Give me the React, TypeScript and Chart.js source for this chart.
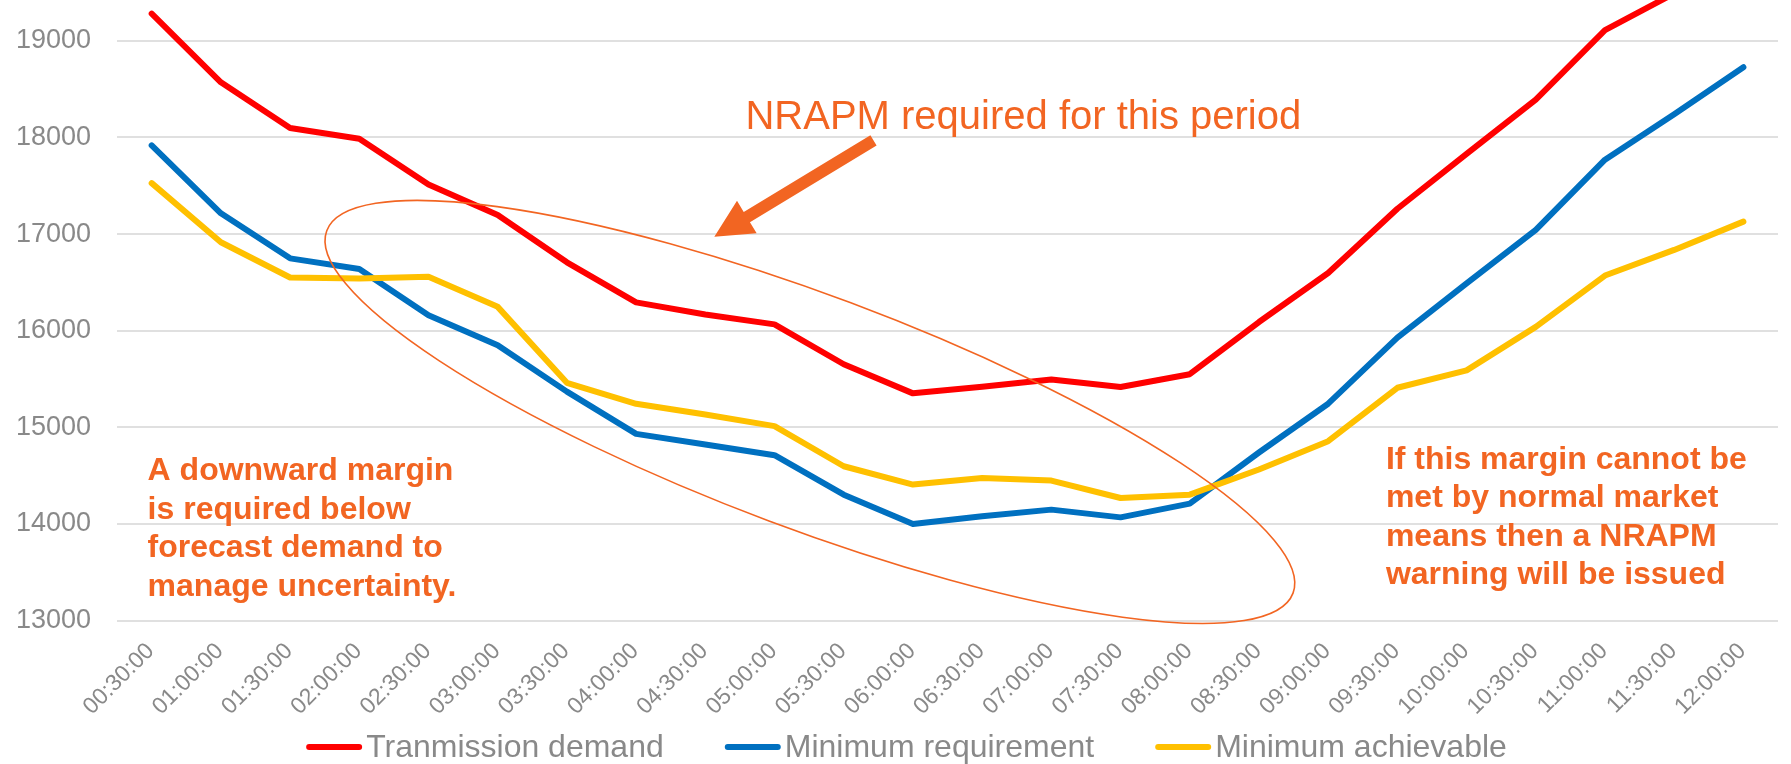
import React, { useEffect, useRef } from 'react';
import { Chart, registerables } from 'chart.js';

Chart.register(...registerables);

const timeLabels = [
  '00:30:00', '01:00:00', '01:30:00', '02:00:00', '02:30:00', '03:00:00',
  '03:30:00', '04:00:00', '04:30:00', '05:00:00', '05:30:00', '06:00:00',
  '06:30:00', '07:00:00', '07:30:00', '08:00:00', '08:30:00', '09:00:00',
  '09:30:00', '10:00:00', '10:30:00', '11:00:00', '11:30:00', '12:00:00',
];

const transmissionDemand = [
  19280, 18570, 18097, 17987, 17512, 17197, 16708, 16293, 16168, 16066, 15653, 15352,
  15420, 15495, 15418, 15550, 16090, 16597, 17262, 17829, 18392, 19110, 19490, 19850,
];

const minimumRequirement = [
  17918, 17215, 16749, 16638, 16161, 15850, 15370, 14933, 14823, 14712, 14304, 14000,
  14080, 14149, 14069, 14211, 14740, 15245, 15929, 16489, 17043, 17770, 18239, 18727,
];

const minimumAchievable = [
  17527, 16915, 16551, 16541, 16559, 16247, 15461, 15244, 15134, 15013, 14598, 14408,
  14477, 14450, 14269, 14304, 14564, 14857, 15410, 15590, 16040, 16571, 16836, 17129,
];

const yTickValues = [13000, 14000, 15000, 16000, 17000, 18000, 19000];
const seriesNames = ['Tranmission demand', 'Minimum requirement', 'Minimum achievable'];
const seriesColors = ['#FF0000', '#0070C0', '#FFC000'];

const leftNote = ['A downward margin', 'is required below', 'forecast demand to', 'manage uncertainty.'];
const rightNote = ['If this margin cannot be', 'met by normal market', 'means then a NRAPM', 'warning will be issued'];
const arrowNote = 'NRAPM required for this period';

const ORANGE = '#F26522';
const GRAY = '#898989';
const FONT = "'Liberation Sans', Arial, Helvetica, sans-serif";
const TOP_SHIFT = 42;
const CANVAS_W = 1791;
const CANVAS_H = 764 + TOP_SHIFT;

const annotationPlugin = {
  id: 'nrapmAnnotations',
  afterDatasetsDraw(chart: any) {
    const { ctx } = chart;
    const x = chart.scales.x;
    const y = chart.scales.y;
    const px = (i: number) => x.getPixelForValue(i);
    const py = (v: number) => y.getPixelForValue(v);
    ctx.save();

    // ellipse
    ctx.strokeStyle = ORANGE;
    ctx.lineWidth = 1.6;
    ctx.beginPath();
    ctx.ellipse(px(9.511), py(15160), 516, 116.5, (20.56 * Math.PI) / 180, 0, Math.PI * 2);
    ctx.stroke();

    // arrow
    const tx = px(10.43), ty = py(17969);
    const hx = px(8.13), hy = py(16973);
    const len = Math.hypot(hx - tx, hy - ty);
    const dx = (hx - tx) / len, dy = (hy - ty) / len;
    const nx = -dy, ny = dx;
    const headLen = 38, headHalf = 19, shaftHalf = 6;
    const bx = hx - dx * headLen, by = hy - dy * headLen;
    ctx.fillStyle = ORANGE;
    ctx.beginPath();
    ctx.moveTo(tx + nx * shaftHalf, ty + ny * shaftHalf);
    ctx.lineTo(bx + nx * shaftHalf, by + ny * shaftHalf);
    ctx.lineTo(bx + nx * headHalf, by + ny * headHalf);
    ctx.lineTo(hx, hy);
    ctx.lineTo(bx - nx * headHalf, by - ny * headHalf);
    ctx.lineTo(bx - nx * shaftHalf, by - ny * shaftHalf);
    ctx.lineTo(tx - nx * shaftHalf, ty - ny * shaftHalf);
    ctx.closePath();
    ctx.fill();

    // texts
    ctx.textAlign = 'left';
    ctx.textBaseline = 'alphabetic';
    ctx.font = `40px ${FONT}`;
    ctx.fillText(arrowNote, px(8.58), py(18084));

    ctx.font = `bold 32px ${FONT}`;
    const lh = 38.4;
    const lx = px(-0.059), ly = py(14452);
    leftNote.forEach((t, i) => ctx.fillText(t, lx, ly + i * lh));
    const rx = px(17.834), ry = py(14572);
    rightNote.forEach((t, i) => ctx.fillText(t, rx, ry + i * lh));

    ctx.restore();
  },
  afterDraw(chart: any) {
    const { ctx } = chart;
    ctx.save();
    ctx.font = `32px ${FONT}`;
    const lineW = 56, textGap = 4, itemGap = 61;
    const widths = chart.data.datasets.map((d: any) => ctx.measureText(d.label).width);
    const total = widths.reduce((a: number, w: number) => a + lineW + textGap + w, 0) + itemGap * (widths.length - 1);
    let sx = chart.width / 2 + 11 - total / 2;
    const cy = chart.height - 17;
    chart.data.datasets.forEach((d: any, i: number) => {
      ctx.strokeStyle = d.borderColor;
      ctx.lineWidth = 6;
      ctx.lineCap = 'round';
      ctx.beginPath();
      ctx.moveTo(sx + 3, cy);
      ctx.lineTo(sx + lineW - 3, cy);
      ctx.stroke();
      ctx.fillStyle = GRAY;
      ctx.textAlign = 'left';
      ctx.textBaseline = 'alphabetic';
      ctx.fillText(d.label, sx + lineW + textGap, cy + 10);
      sx += lineW + textGap + widths[i] + itemGap;
    });
    ctx.restore();
  },
};

export default function App() {
  const canvasRef = useRef<HTMLCanvasElement | null>(null);

  useEffect(() => {
    if (!canvasRef.current) return;
    const series = [transmissionDemand, minimumRequirement, minimumAchievable];
    const chart = new Chart(canvasRef.current, {
      type: 'line',
      data: {
        labels: timeLabels,
        datasets: series.map((values, i) => ({
          label: seriesNames[i],
          data: values,
          borderColor: seriesColors[i],
          backgroundColor: seriesColors[i],
          borderWidth: 6,
          pointRadius: 0,
          pointHoverRadius: 0,
          tension: 0,
          fill: false,
          borderCapStyle: 'round',
          borderJoinStyle: 'round',
          order: 3 - i,
        })),
      },
      options: {
        responsive: false,
        animation: false,
        devicePixelRatio: 1,
        layout: { autoPadding: false, padding: { left: -10, right: 13, top: TOP_SHIFT, bottom: 26.5 } },
        plugins: {
          legend: { display: false },
          tooltip: { enabled: false },
        },
        scales: {
          x: {
            offset: true,
            grid: { display: false, drawTicks: false },
            border: { display: false },
            ticks: {
              color: GRAY,
              font: { family: FONT, size: 23 },
              minRotation: 45,
              maxRotation: 45,
              autoSkip: false,
              padding: 17,
              labelOffset: -1,
            },
          },
          y: {
            min: 13000,
            max: 19422,
            afterBuildTicks: (axis: any) => {
              axis.ticks = yTickValues.map((v) => ({ value: v }));
            },
            afterFit: (axis: any) => {
              axis.paddingTop = 0;
              axis.paddingBottom = 0;
            },
            grid: { color: '#e0e0e0', lineWidth: 2, drawTicks: false },
            border: { display: false },
            ticks: {
              color: GRAY,
              font: { family: FONT, size: 27 },
              padding: 26,
              callback: (v: any) => String(v),
            },
          },
        },
      } as any,
      plugins: [annotationPlugin],
    });
    return () => chart.destroy();
  }, []);

  return (
    <div style={{ position: 'fixed', left: 0, top: 0, width: CANVAS_W, height: 764, overflow: 'hidden', background: '#fff' }}>
      <canvas
        ref={canvasRef}
        width={CANVAS_W}
        height={CANVAS_H}
        style={{ position: 'absolute', left: 0, top: -TOP_SHIFT, width: CANVAS_W, height: CANVAS_H }}
      />
    </div>
  );
}
